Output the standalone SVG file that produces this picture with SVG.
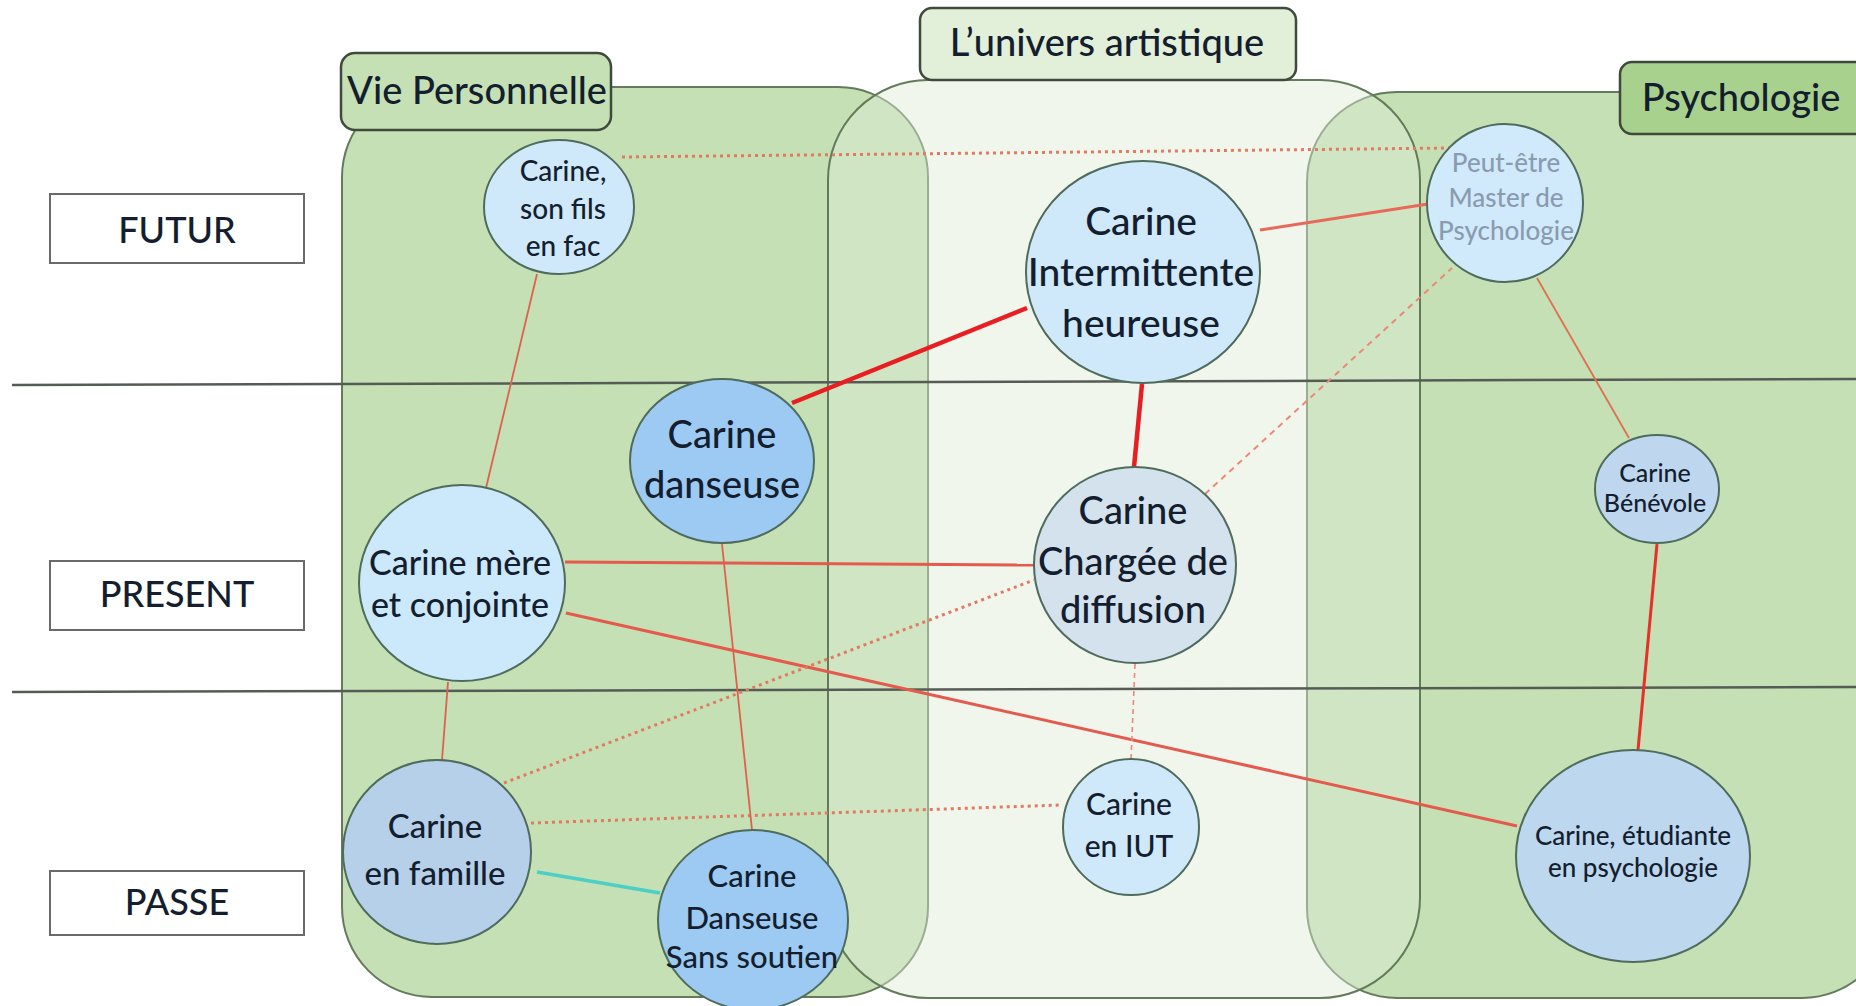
<svg xmlns="http://www.w3.org/2000/svg" width="1856" height="1006" viewBox="0 0 1856 1006">
<defs>
<style>
.txt{font-family:Lato,"Liberation Sans",sans-serif;fill:#141e2e;text-anchor:middle;font-weight:500}
.row rect{fill:#ffffff;stroke:#6a6a6a;stroke-width:2}
.row text{font-size:36px}
.cont{stroke:#647a5a;stroke-width:2}
.lbl{stroke:#3f4a3c;stroke-width:2.5}
.lbl-t{font-size:38px}
.node ellipse{stroke:#4e6b5c;stroke-width:2}
.hl{stroke:#555b55;stroke-width:2.5;fill:none}
.c-thin{stroke:#e0604e;stroke-width:1.8;fill:none}
.c-mid{stroke:#e45a4c;stroke-width:3;fill:none}
.c-thick{stroke:#e81e22;stroke-width:4.5;fill:none}
.c-dot{stroke:#e27a62;stroke-width:3;stroke-dasharray:3 4;fill:none}
.c-dash{stroke:#ec8878;stroke-width:2;stroke-dasharray:6 5;fill:none}
.c-teal{stroke:#4ccfc4;stroke-width:3.5;fill:none}
</style>
</defs>
<rect x="0" y="0" width="1856" height="1006" fill="#ffffff"/>

<g id="containers">
<rect id="vie-personnelle" class="cont" x="342" y="87" width="586" height="910" rx="90" ry="90" fill="#c5e0b4"/>
<rect id="psychologie" class="cont" x="1307" y="92" width="585" height="906" rx="90" ry="90" fill="#c5e0b4"/>
<rect id="univers-artistique" class="cont" x="828" y="80" width="592" height="918" rx="100" ry="100" fill="rgb(222,235,213)" fill-opacity="0.45"/>
</g>

<g id="labels">
<g id="label-vie">
<rect class="lbl" x="341" y="53" width="270" height="77" rx="14" fill="#c5e0b4"/>
<text class="txt lbl-t" x="477" y="104">Vie Personnelle</text>
</g>
<g id="label-univers">
<rect class="lbl" x="920" y="8" width="376" height="72" rx="12" fill="#e2efd9"/>
<text class="txt lbl-t" x="1107" y="56">L’univers artistique</text>
</g>
<g id="label-psy">
<rect class="lbl" x="1620" y="62" width="250" height="72" rx="12" fill="#a9d18e"/>
<text class="txt lbl-t" x="1741" y="111">Psychologie</text>
</g>
</g>

<g id="rows">
<line class="hl" x1="12" y1="385" x2="1856" y2="379"/>
<line class="hl" x1="12" y1="692" x2="1856" y2="687"/>
<g id="row-futur" class="row"><rect x="50" y="194" width="254" height="69"/><text class="txt" x="177" y="243">FUTUR</text></g>
<g id="row-present" class="row"><rect x="50" y="561" width="254" height="69"/><text class="txt" x="177" y="607">PRESENT</text></g>
<g id="row-passe" class="row"><rect x="50" y="871" width="254" height="64"/><text class="txt" x="177" y="915">PASSE</text></g>
</g>

<g id="connectors">
<line class="c-thin" x1="537" y1="274" x2="486" y2="488"/>
<line class="c-dot" x1="622" y1="157" x2="1452" y2="148"/>
<line class="c-thick" x1="792" y1="403" x2="1027" y2="308"/>
<line class="c-thick" x1="1142" y1="384" x2="1134" y2="467"/>
<line class="c-mid" x1="1260" y1="230" x2="1428" y2="204" style="stroke:#e8685a"/>
<line class="c-dash" x1="1205" y1="494" x2="1452" y2="268"/>
<line class="c-thin" x1="1537" y1="278" x2="1629" y2="438" style="stroke:#e0704e"/>
<line class="c-mid" x1="1657" y1="544" x2="1638" y2="750" style="stroke:#e8302a"/>
<line class="c-mid" x1="565" y1="562" x2="1034" y2="565"/>
<line class="c-mid" x1="566" y1="613" x2="1517" y2="826"/>
<line class="c-dot" x1="504" y1="783" x2="1034" y2="580"/>
<line class="c-dot" x1="531" y1="823" x2="1062" y2="805"/>
<line class="c-dash" x1="1135" y1="664" x2="1131" y2="760" style="stroke-width:1.6;stroke-dasharray:5 4"/>
<line class="c-thin" x1="722" y1="544" x2="752" y2="830"/>
<line class="c-thin" x1="448" y1="682" x2="442" y2="760"/>
<line class="c-teal" x1="537" y1="872" x2="660" y2="893"/>
</g>

<g id="nodes">
<g id="n-son-fils" class="node">
<ellipse cx="559" cy="207" rx="75" ry="67" fill="#cfe9fb"/>
<text class="txt" font-size="28"><tspan x="563" y="181">Carine,</tspan><tspan x="563" y="219">son fils</tspan><tspan x="563" y="256">en fac</tspan></text>
</g>
<g id="n-intermittente" class="node">
<ellipse cx="1143" cy="272" rx="117" ry="111" fill="#cfe9fb"/>
<text class="txt" font-size="39"><tspan x="1141" y="235">Carine</tspan><tspan x="1141" y="286">Intermittente</tspan><tspan x="1141" y="337">heureuse</tspan></text>
</g>
<g id="n-master" class="node">
<ellipse cx="1505" cy="203" rx="78" ry="79" fill="#d0eafb"/>
<text class="txt" font-size="26" style="fill:#8a9bb0"><tspan x="1506" y="172">Peut-être</tspan><tspan x="1506" y="207">Master de</tspan><tspan x="1506" y="240">Psychologie</tspan></text>
</g>
<g id="n-danseuse" class="node">
<ellipse cx="722" cy="461" rx="92" ry="82" fill="#9ccaf2"/>
<text class="txt" font-size="38"><tspan x="722" y="448">Carine</tspan><tspan x="722" y="498">danseuse</tspan></text>
</g>
<g id="n-mere" class="node">
<ellipse cx="462" cy="583" rx="103" ry="98" fill="#cce8fb"/>
<text class="txt" font-size="34"><tspan x="460" y="575">Carine mère</tspan><tspan x="460" y="617">et conjointe</tspan></text>
</g>
<g id="n-chargee" class="node">
<ellipse cx="1135" cy="565" rx="101" ry="98" fill="#d3e2ed"/>
<text class="txt" font-size="38"><tspan x="1133" y="524">Carine</tspan><tspan x="1133" y="575">Chargée de</tspan><tspan x="1133" y="623">diffusion</tspan></text>
</g>
<g id="n-benevole" class="node">
<ellipse cx="1657" cy="489" rx="62" ry="54" fill="#bfd7ee"/>
<text class="txt" font-size="25"><tspan x="1655" y="482">Carine</tspan><tspan x="1655" y="512">Bénévole</tspan></text>
</g>
<g id="n-famille" class="node">
<ellipse cx="437" cy="852" rx="94" ry="92" fill="#b6d0ea"/>
<text class="txt" font-size="33"><tspan x="435" y="838">Carine</tspan><tspan x="435" y="885">en famille</tspan></text>
</g>
<g id="n-sans-soutien" class="node">
<ellipse cx="753" cy="920" rx="95" ry="90" fill="#9ccaf2"/>
<text class="txt" font-size="31"><tspan x="752" y="887">Carine</tspan><tspan x="752" y="929">Danseuse</tspan><tspan x="752" y="968">Sans soutien</tspan></text>
</g>
<g id="n-iut" class="node">
<ellipse cx="1131" cy="827" rx="68" ry="68" fill="#cfe9fb"/>
<text class="txt" font-size="30"><tspan x="1129" y="815">Carine</tspan><tspan x="1129" y="857">en IUT</tspan></text>
</g>
<g id="n-etudiante" class="node">
<ellipse cx="1633" cy="856" rx="117" ry="106" fill="#bdd7ee"/>
<text class="txt" font-size="26"><tspan x="1633" y="845">Carine, étudiante</tspan><tspan x="1633" y="877">en psychologie</tspan></text>
</g>
</g>
</svg>
